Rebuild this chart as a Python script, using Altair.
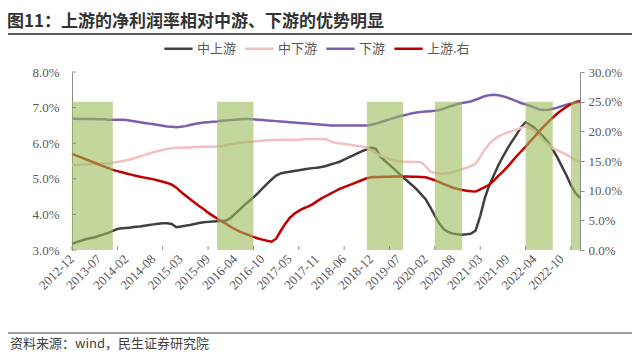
import altair as alt
import pandas as pd

# ---------------- data ----------------
months = ['2012-12'] + [f'{y}-{m:02d}' for y in range(2013, 2024) for m in range(2, 13)]
months = months[:113]  # 2012-12 ... 2023-03 (January merged into Feb)

x_labels = ['2012-12', '2013-07', '2014-02', '2014-08', '2015-03', '2015-09', '2016-04',
            '2016-10', '2017-05', '2017-11', '2018-06', '2018-12', '2019-07', '2020-02',
            '2020-08', '2021-03', '2021-09', '2022-04', '2022-10']

series_names = ['中上游', '中下游', '下游', '上游.右']
series_colors = ['#404040', '#f2c0c0', '#7b5fae', '#c00000']

mid_up = [3.17, 3.22, 3.26, 3.30, 3.33, 3.36, 3.40, 3.44, 3.48, 3.54,
          3.59, 3.61, 3.62, 3.63, 3.65, 3.66, 3.68, 3.70, 3.72, 3.74,
          3.75, 3.75, 3.73, 3.64, 3.66, 3.68, 3.70, 3.73, 3.76, 3.78,
          3.79, 3.80, 3.81, 3.82, 3.83, 3.90, 4.02, 4.14, 4.26, 4.37,
          4.48, 4.60, 4.73, 4.86, 4.98, 5.09, 5.15, 5.18, 5.20, 5.22,
          5.24, 5.26, 5.28, 5.30, 5.31, 5.33, 5.36, 5.40, 5.44, 5.48,
          5.54, 5.60, 5.66, 5.72, 5.78, 5.83, 5.88, 5.84, 5.62, 5.50,
          5.39, 5.28, 5.16, 5.04, 4.93, 4.82, 4.70, 4.56, 4.42, 4.20,
          3.96, 3.74, 3.58, 3.50, 3.46, 3.44, 3.43, 3.44, 3.46, 3.55,
          3.95, 4.45, 4.82, 5.10, 5.38, 5.62, 5.85, 6.05, 6.24, 6.45,
          6.59, 6.52, 6.43, 6.30, 6.17, 6.02, 5.82, 5.60, 5.35, 5.10,
          4.82, 4.60, 4.46]

mid_down = [5.39, 5.39, 5.40, 5.40, 5.41, 5.41, 5.42, 5.43, 5.44, 5.45,
            5.47, 5.49, 5.52, 5.55, 5.59, 5.63, 5.67, 5.71, 5.75, 5.78,
            5.81, 5.84, 5.86, 5.87, 5.87, 5.88, 5.88, 5.89, 5.89, 5.90,
            5.90, 5.90, 5.91, 5.92, 5.95, 5.97, 5.99, 6.01, 6.03, 6.04,
            6.05, 6.06, 6.07, 6.08, 6.09, 6.09, 6.10, 6.10, 6.10, 6.10,
            6.10, 6.11, 6.12, 6.12, 6.12, 6.12, 6.11, 6.05, 6.01, 5.99,
            5.98, 5.96, 5.94, 5.92, 5.90, 5.88, 5.80, 5.72, 5.65, 5.60,
            5.55, 5.51, 5.49, 5.48, 5.48, 5.47, 5.47, 5.46, 5.35, 5.20,
            5.17, 5.15, 5.14, 5.16, 5.19, 5.23, 5.27, 5.31, 5.36, 5.42,
            5.62, 5.82, 5.98, 6.10, 6.19, 6.25, 6.30, 6.34, 6.38, 6.43,
            6.47, 6.43, 6.35, 6.22, 6.08, 5.96, 5.87, 5.80, 5.74, 5.68,
            5.61, 5.54, 5.48]

down = [6.69, 6.69, 6.68, 6.68, 6.68, 6.68, 6.67, 6.67, 6.66, 6.66,
        6.66, 6.66, 6.65, 6.63, 6.61, 6.59, 6.57, 6.55, 6.53, 6.51,
        6.49, 6.47, 6.46, 6.45, 6.46, 6.48, 6.51, 6.54, 6.56, 6.58,
        6.59, 6.60, 6.61, 6.63, 6.64, 6.65, 6.66, 6.67, 6.68, 6.68,
        6.67, 6.66, 6.65, 6.64, 6.63, 6.62, 6.61, 6.60, 6.59, 6.58,
        6.57, 6.56, 6.55, 6.54, 6.53, 6.52, 6.51, 6.50, 6.50, 6.50,
        6.50, 6.50, 6.50, 6.50, 6.50, 6.50, 6.52, 6.55, 6.59, 6.63,
        6.67, 6.71, 6.75, 6.78, 6.81, 6.84, 6.86, 6.88, 6.89, 6.90,
        6.91, 6.93, 6.97, 7.02, 7.06, 7.10, 7.13, 7.15, 7.18, 7.22,
        7.27, 7.32, 7.35, 7.36, 7.35, 7.32, 7.28, 7.23, 7.18, 7.13,
        7.09, 7.05, 7.00, 6.95, 6.93, 6.94, 6.97, 7.00, 7.04, 7.08,
        7.11, 7.14, 7.16]

up_right = [16.2, 15.9, 15.6, 15.3, 15.0, 14.7, 14.4, 14.1, 13.8, 13.5,
            13.3, 13.1, 12.9, 12.7, 12.5, 12.35, 12.2, 12.05, 11.9, 11.7,
            11.5, 11.3, 11.0, 10.5, 9.8, 9.2, 8.6, 8.0, 7.4, 6.9,
            6.3, 5.8, 5.3, 4.8, 4.4, 3.9, 3.5, 3.1, 2.8, 2.5,
            2.2, 1.95, 1.75, 1.55, 1.4, 1.9, 3.2, 4.4, 5.4, 6.1,
            6.6, 7.0, 7.3, 7.7, 8.2, 8.7, 9.1, 9.5, 9.9, 10.3,
            10.6, 10.9, 11.2, 11.5, 11.8, 12.1, 12.25, 12.3, 12.3, 12.35,
            12.35, 12.4, 12.4, 12.4, 12.4, 12.35, 12.35, 12.3, 12.25, 12.0,
            11.75, 11.45, 11.1, 10.8, 10.5, 10.3, 10.1, 10.0, 9.9, 9.85,
            10.2, 10.6, 11.0, 11.7, 12.5, 13.2, 14.0, 14.9, 15.8, 16.6,
            17.4, 18.3, 19.1, 20.0, 20.8, 21.6, 22.3, 23.0, 23.6, 24.1,
            24.6, 24.9, 25.1]

shade_start = ['2012-12', '2015-11', '2018-11', '2020-04', '2022-02', '2022-12']
shade_end = ['2013-10', '2016-08', '2019-08', '2020-10', '2022-08', '2023-03']
shade_level = 25.0

left_ticks = [3, 4, 5, 6, 7, 8]
right_ticks = [0, 5, 10, 15, 20, 25, 30]

title_text = '图11：上游的净利润率相对中游、下游的优势明显'
source_text = '资料来源：wind，民生证券研究院'

# ---------------- tables ----------------
rows = []
for name, vals in zip(series_names[:3], [mid_up, mid_down, down]):
    for i, v in enumerate(vals):
        rows.append({'i': i, 'series': name, 'value': v})
df_left = pd.DataFrame(rows)
df_right = pd.DataFrame({'i': list(range(len(up_right))),
                         'series': series_names[3], 'value': up_right})
df_bars = pd.DataFrame({'s': [months.index(m) for m in shade_start],
                        'e': [months.index(m) for m in shade_end],
                        'h': [shade_level] * len(shade_start),
                        'lo': [0.0] * len(shade_start)})
df_bt = pd.DataFrame({'i': list(range(0, 113, 10))})
df_lt = pd.DataFrame({'v': left_ticks})
df_xl = pd.DataFrame({'i': [months.index(l) for l in x_labels], 'label': x_labels})

W, H = 508, 178
AX = '#8c8c8c'
LBL = '#595959'
SERIF = 'Liberation Serif'
CJK = 'Noto Sans CJK SC'

x_scale = alt.Scale(domain=[0, len(months) - 1], nice=False, zero=False)
left_scale = alt.Scale(domain=[3, 8], nice=False, zero=False)
right_scale = alt.Scale(domain=[0, 30], nice=False, zero=True)
color_scale = alt.Scale(domain=series_names, range=series_colors)
sw_scale = alt.Scale(domain=series_names, range=[2.5, 2.5, 3.2, 2.5])

x_axis = alt.Axis(labels=False, ticks=False, domain=True, domainColor=AX,
                  grid=False, title=None, orient='bottom')

legend = alt.Legend(orient='none', legendX=91, legendY=-39, direction='horizontal',
                    title=None, symbolType='stroke', symbolSize=800, symbolStrokeWidth=3,
                    labelFont=CJK, labelFontSize=13, labelColor=LBL, columnPadding=3,
                    labelOffset=3)

left_lines = alt.Chart(df_left).mark_line().encode(
    x=alt.X('i:Q', scale=x_scale, axis=x_axis),
    y=alt.Y('value:Q', scale=left_scale,
            axis=alt.Axis(orient='left', values=left_ticks,
                          labelExpr="format(datum.value, '.1f') + '%'",
                          labelFont=SERIF, labelFontSize=13, labelColor=LBL, ticks=False,
                          domain=True, labelPadding=13, domainColor=AX, grid=False, title=None)),
    color=alt.Color('series:N', scale=color_scale, legend=legend),
    strokeWidth=alt.StrokeWidth('series:N', scale=sw_scale, legend=None),
    detail='series:N',
)

red_line = alt.Chart(df_right).mark_line().encode(
    x=alt.X('i:Q', scale=x_scale, axis=None),
    y=alt.Y('value:Q', scale=right_scale,
            axis=alt.Axis(orient='right', values=right_ticks,
                          labelExpr="format(datum.value, '.1f') + '%'",
                          labelFont=SERIF, labelFontSize=13, labelColor=LBL,
                          tickSize=4, tickColor=AX, labelPadding=4, domain=True,
                          domainColor=AX, grid=False, title=None)),
    color=alt.Color('series:N', scale=color_scale, legend=legend),
    strokeWidth=alt.StrokeWidth('series:N', scale=sw_scale, legend=None),
)

bars = alt.Chart(df_bars).mark_rect(color='#9bbb59', opacity=0.6).encode(
    x=alt.X('s:Q', scale=x_scale, axis=None), x2='e:Q',
    y=alt.Y('h:Q', scale=right_scale, axis=None), y2='lo:Q')

left_tick_marks = alt.Chart(df_lt).mark_rule(color=AX).encode(
    y=alt.Y('v:Q', scale=left_scale, axis=None), x=alt.value(0), x2=alt.value(4))
bottom_tick_marks = alt.Chart(df_bt).mark_rule(color=AX).encode(
    x=alt.X('i:Q', scale=x_scale, axis=None), y=alt.value(H - 4), y2=alt.value(H))

x_label_marks = alt.Chart(df_xl).mark_text(
    angle=315, align='right', baseline='middle', font=SERIF, fontSize=13, color=LBL
).encode(x=alt.X('i:Q', scale=x_scale, axis=None), y=alt.value(H + 7), text='label:N')

title_mark = alt.Chart(pd.DataFrame({'t': [title_text]})).mark_text(
    align='left', baseline='middle', font=CJK, fontSize=17, fontWeight='bold', color='#333333'
).encode(text='t:N', x=alt.value(-65), y=alt.value(-50))
title_rule = alt.Chart(pd.DataFrame({'t': [0]})).mark_rule(color='#595959', strokeWidth=2).encode(
    x=alt.value(-69), x2=alt.value(560), y=alt.value(-38))
source_rule = alt.Chart(pd.DataFrame({'t': [0]})).mark_rule(color='#7f7f7f', strokeWidth=1.5).encode(
    x=alt.value(-69), x2=alt.value(560), y=alt.value(261))
source_mark = alt.Chart(pd.DataFrame({'t': [source_text]})).mark_text(
    align='left', baseline='middle', font=CJK, fontSize=13, color='#404040'
).encode(text='t:N', x=alt.value(-62), y=alt.value(272))

chart = alt.layer(
    left_lines, red_line, bars, left_tick_marks, bottom_tick_marks, x_label_marks,
    title_mark, title_rule, source_rule, source_mark
).resolve_scale(y='independent').properties(
    width=W, height=H,
    autosize=alt.AutoSizeParams(type='none'),
    padding={'left': 64, 'top': 64, 'right': 52, 'bottom': 101},
).configure_view(stroke=None)

chart.save('out.html', embed_options={'renderer': 'svg', 'actions': False})
